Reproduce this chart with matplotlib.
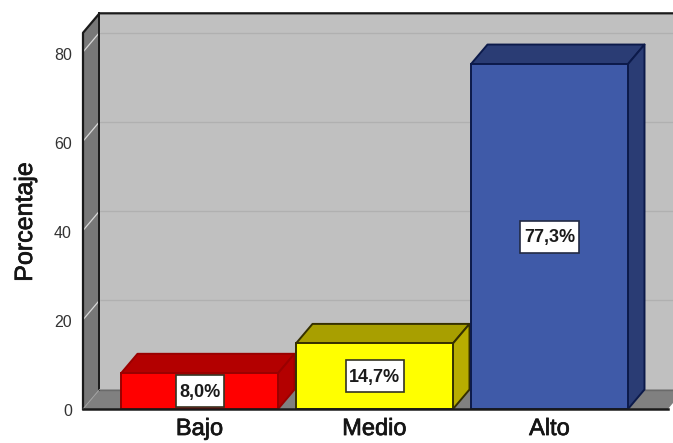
import matplotlib
matplotlib.use("Agg")
import matplotlib.pyplot as plt
import matplotlib.patheffects as pe
from matplotlib.patches import Polygon, Rectangle
from matplotlib.transforms import ScaledTranslation

categories = ["Bajo", "Medio", "Alto"]
values = [8.0, 14.7, 77.3]
labels = ["8,0%", "14,7%", "77,3%"]
yticks = [0, 20, 40, 60, 80]
front_colors = ["#ff0000", "#ffff00", "#3f5aa8"]
top_colors = ["#b30000", "#a89f00", "#2a3c74"]
side_colors = ["#b30000", "#b8ad00", "#2a3c74"]
edge_colors = ["#9a0000", "#353000", "#0c1a4a"]
box_widths = [48, 58, 59]

W, H = 673, 443
plt.rcParams["font.family"] = ["Liberation Sans", "DejaVu Sans"]
fig = plt.figure(figsize=(W / 100, H / 100), dpi=100, facecolor="white")
L, R, B, T = 83, 673, 409, 52
ax = fig.add_axes([L / W, 1 - B / H, (R - L) / W, (B - T) / H])
ppx = 175.0
ppy = (B - T) / 80.0
ax.set_xlim((L - 199.5) / ppx, (R - 199.5) / ppx)
ax.set_ylim(0, 80)
ax.patch.set_visible(False)
for s in ax.spines.values():
    s.set_visible(False)

dx, dy = 16.5 / ppx, 19.5 / ppy
x0, x1 = ax.get_xlim()
ymax = 84.3
wall_line = "#1a1a1a"
heavy = [pe.withStroke(linewidth=0.5, foreground="#151515")]

def poly(pts, fc, ec="none", lw=0.0, z=1):
    ax.add_patch(Polygon(pts, closed=True, fc=fc, ec=ec, lw=lw, clip_on=False, zorder=z, joinstyle="round"))

# back wall
poly([(x0 + dx, dy), (x1 + 0.1, dy), (x1 + 0.1, ymax + dy), (x0 + dx, ymax + dy)], "#c0c0c0", z=1)
# floor
xr = x1 - 5 / ppx
poly([(x0, 0), (xr, 0), (x1, 6 / ppy), (x1, dy), (x0 + dx, dy)], "#808080", z=2)
ax.plot([x0 + dx, x1], [dy, dy], color="#6a6a6a", lw=1, zorder=2, clip_on=False)
# left wall
poly([(x0, 0), (x0 + dx, dy), (x0 + dx, ymax + dy), (x0, ymax)], "#787878", z=2)
# grid lines on walls
for t in yticks[1:]:
    ax.plot([x0, x0 + dx], [t, t + dy], color="#d8d8d8", lw=0.9, zorder=3, clip_on=False)
    ax.plot([x0 + dx, x1], [t + dy, t + dy], color="#b0b0b0", lw=0.9, zorder=1.5, clip_on=False)
# wall outlines
ax.plot([x0, x0, x0 + dx, x1], [0, ymax, ymax + dy, ymax + dy], color=wall_line, lw=1.6, zorder=3, clip_on=False)
ax.plot([x0 + dx, x0 + dx], [dy, ymax + dy], color=wall_line, lw=1.4, zorder=3, clip_on=False)
ax.plot([x0, x0 + dx], [0, dy], color="#a0a0a0", lw=0.7, zorder=3, clip_on=False)

# bars
w = 157.0 / ppx
for i, (v, lab) in enumerate(zip(values, labels)):
    a, b = i - w / 2, i + w / 2
    z = 4 + i
    poly([(a, v), (b, v), (b + dx, v + dy), (a + dx, v + dy)], top_colors[i], edge_colors[i], 1.4, z)
    poly([(b, 0), (b + dx, dy), (b + dx, v + dy), (b, v)], side_colors[i], edge_colors[i], 1.4, z)
    ax.bar(i, v, width=w, color=front_colors[i], edgecolor=edge_colors[i], linewidth=1.4, zorder=z + 0.1, clip_on=False)
    bw, bh = box_widths[i] / ppx, 32 / ppy
    ax.add_patch(Rectangle((i - bw / 2, v / 2 - bh / 2), bw, bh, fc="white", ec="#222a44" if i == 2 else "#333322",
                           lw=1.2, zorder=10, clip_on=False))
    ax.text(i, v / 2 - 1.2 / ppy, lab, ha="center", va="center", fontsize=13, fontweight="bold",
            color="#1a1a1a", zorder=11)

ax.plot([x0, xr], [0, 0], color="#1a1a1a", lw=1.8, zorder=9, clip_on=False)

ax.set_yticks(yticks)
ax.set_xticks(range(3))
ax.set_xticklabels(categories, fontsize=17, color="#151515", path_effects=heavy)
ax.tick_params(axis="x", length=0, pad=6.5)
ax.tick_params(axis="y", length=0, pad=8, labelsize=11.5, labelcolor="#333333")
shift = ScaledTranslation(0, -1.5 / 100, fig.dpi_scale_trans)
for t in ax.get_yticklabels():
    t.set_transform(t.get_transform() + shift)
fig.text(25 / W, 1 - 222 / H, "Porcentaje", rotation=90, ha="center", va="center",
         fontsize=18, color="#151515", path_effects=heavy)
fig.savefig("out.png", dpi=100)
